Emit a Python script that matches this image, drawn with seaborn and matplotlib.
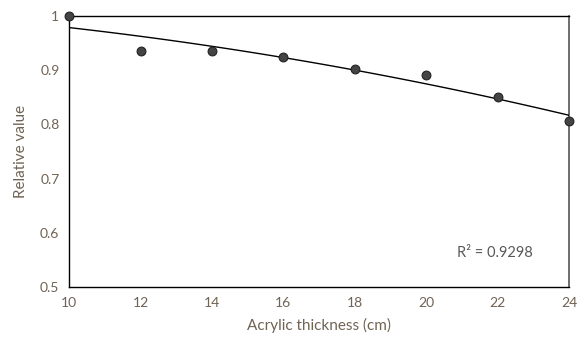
import numpy as np
import pandas as pd
import seaborn as sns
import matplotlib.pyplot as plt

thickness = [10, 12, 14, 16, 18, 20, 22, 24]
relative = [1.0, 0.936, 0.936, 0.925, 0.903, 0.892, 0.850, 0.806]
x_ticks = [10, 12, 14, 16, 18, 20, 22, 24]
y_ticks = [0.5, 0.6, 0.7, 0.8, 0.9, 1.0]
y_labels = ['0.5', '0.6', '0.7', '0.8', '0.9', '1']

df = pd.DataFrame({'thickness': thickness, 'relative': relative})

sns.set_style('white')
plt.rcParams['font.family'] = ['Lato', 'DejaVu Sans']
text_col = '#6f6353'

fig = plt.figure(figsize=(5.86, 3.42), dpi=100)
ax = fig.add_axes([0.118, 0.161, 0.853, 0.792])

sns.regplot(x='thickness', y='relative', data=df, order=2, ci=None, ax=ax,
            scatter_kws={'s': 40, 'color': '#444444', 'edgecolor': '#222222',
                         'linewidths': 0.8, 'alpha': 1, 'zorder': 4, 'clip_on': False},
            line_kws={'color': 'black', 'lw': 1.0, 'zorder': 3})

ax.set_xlim(10, 24)
ax.set_ylim(0.5, 1.0)
ax.set_xticks(x_ticks)
ax.set_xticklabels([str(t) for t in x_ticks])
ax.set_yticks(y_ticks)
ax.set_yticklabels(y_labels)
ax.tick_params(length=0, labelsize=10, colors=text_col, pad=7)
ax.set_xlabel('Acrylic thickness (cm)', fontsize=11, color=text_col, labelpad=7)
ax.set_ylabel('Relative value', fontsize=11, color=text_col, labelpad=9)

for side in ['left', 'bottom', 'top']:
    ax.spines[side].set_color('black')
    ax.spines[side].set_linewidth(1.0)
ax.spines['right'].set_color('#555555')
ax.spines['right'].set_linewidth(1.2)

ax.text(0.852, 0.125, 'R² = 0.9298', transform=ax.transAxes, ha='center', va='center',
        fontsize=10.5, color='#595959')

fig.savefig('out.png', dpi=100)
